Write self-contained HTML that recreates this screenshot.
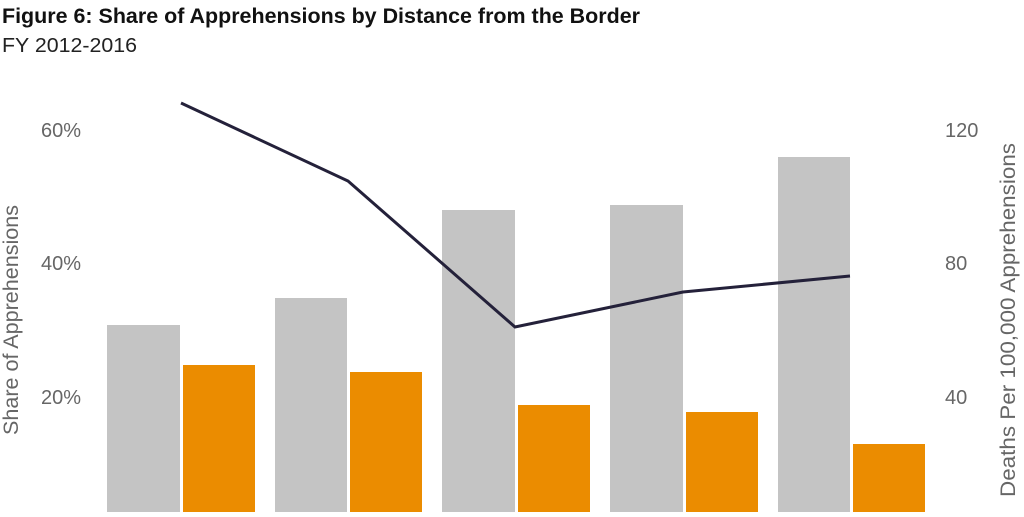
<!DOCTYPE html>
<html><head><meta charset="utf-8"><style>
body{margin:0;background:#fff;width:1024px;height:512px;overflow:hidden}
</style></head><body>
<svg width="1024" height="512" xmlns="http://www.w3.org/2000/svg" font-family="Liberation Sans Narrow, Liberation Sans, sans-serif">
<text x="2" y="23" font-size="21" font-weight="bold" fill="#111" textLength="638" lengthAdjust="spacingAndGlyphs">Figure 6: Share of Apprehensions by Distance from the Border</text>
<text x="2" y="52" font-size="20" fill="#222" textLength="135" lengthAdjust="spacingAndGlyphs">FY 2012-2016</text>
<g fill="#666" font-size="20">
<text x="81" y="137" text-anchor="end">60%</text>
<text x="81" y="270" text-anchor="end">40%</text>
<text x="81" y="404" text-anchor="end">20%</text>
<text x="945" y="137">120</text>
<text x="945" y="270">80</text>
<text x="945" y="404">40</text>
<text transform="translate(18,435) rotate(-90)" font-size="21" textLength="230" lengthAdjust="spacingAndGlyphs">Share of Apprehensions</text>
<text transform="translate(1015,497) rotate(-90)" font-size="21" textLength="354" lengthAdjust="spacingAndGlyphs">Deaths Per 100,000 Apprehensions</text>
</g>
<g fill="#c4c4c4">
<rect x="107" y="325" width="73" height="190"/>
<rect x="275" y="298" width="72" height="220"/>
<rect x="442" y="210" width="73" height="310"/>
<rect x="610" y="205" width="73" height="310"/>
<rect x="778" y="157" width="72" height="360"/>
</g>
<g fill="#eb8c00">
<rect x="183" y="365" width="72" height="150"/>
<rect x="350" y="372" width="72" height="150"/>
<rect x="518" y="405" width="72" height="110"/>
<rect x="686" y="412" width="72" height="110"/>
<rect x="853" y="444" width="72" height="80"/>
</g>
<polyline points="181,103 348,181 515,327 683,292 850,276" fill="none" stroke="#24213a" stroke-width="3"/>
</svg>
</body></html>
